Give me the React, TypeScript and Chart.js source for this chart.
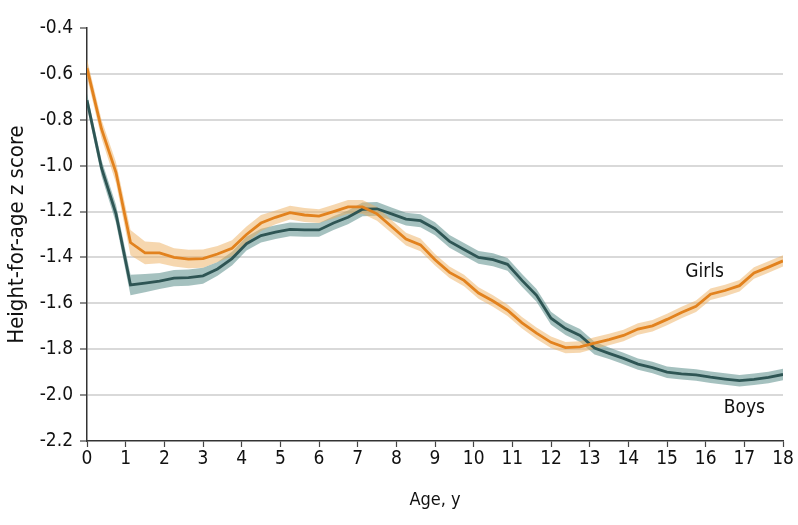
import React, { useEffect, useRef } from "react";
import { Chart, registerables } from "chart.js";

Chart.register(...registerables);

// Ages (years) at which the z scores were read
const ages = [
  0, 0.375, 0.75, 1.125, 1.5, 1.875, 2.25, 2.625, 3, 3.375, 3.75, 4.125, 4.5, 4.875, 5.25, 5.625,
  6, 6.375, 6.75, 7.125, 7.5, 7.875, 8.25, 8.625, 9, 9.375, 9.75, 10.125, 10.5, 10.875, 11.25, 11.625,
  12, 12.375, 12.75, 13.125, 13.5, 13.875, 14.25, 14.625, 15, 15.375, 15.75, 16.125, 16.5, 16.875, 17.25, 17.625, 18,
];

const girls = [
  -0.575, -0.84, -1.03, -1.335, -1.38, -1.38, -1.4, -1.407, -1.405, -1.385, -1.36, -1.3, -1.25, -1.225, -1.205, -1.215,
  -1.22, -1.2, -1.18, -1.18, -1.21, -1.265, -1.32, -1.345, -1.41, -1.465, -1.5, -1.555, -1.59, -1.63, -1.685, -1.73,
  -1.77, -1.793, -1.79, -1.773, -1.758, -1.74, -1.712, -1.698, -1.67, -1.64, -1.613, -1.56, -1.544, -1.523, -1.468, -1.442, -1.415,
];

const boys = [
  -0.715, -1.01, -1.21, -1.52, -1.512, -1.503, -1.49, -1.488, -1.48, -1.45, -1.405, -1.34, -1.305, -1.29, -1.278, -1.28,
  -1.28, -1.25, -1.225, -1.19, -1.188, -1.21, -1.233, -1.24, -1.275, -1.33, -1.365, -1.4, -1.41, -1.43, -1.5, -1.565,
  -1.665, -1.71, -1.74, -1.795, -1.818, -1.84, -1.865, -1.88, -1.9, -1.907, -1.912, -1.922, -1.93, -1.937, -1.931, -1.923, -1.91,
];

// Half-width of the 95% confidence band
const girlsCI = [
  0.04, 0.04, 0.045, 0.055, 0.05, 0.045, 0.04, 0.04, 0.04, 0.035, 0.035, 0.035, 0.035, 0.03, 0.03, 0.03,
  0.03, 0.03, 0.03, 0.03, 0.03, 0.028, 0.028, 0.028, 0.025, 0.025, 0.025, 0.025, 0.025, 0.025, 0.025, 0.025,
  0.025, 0.025, 0.025, 0.025, 0.025, 0.025, 0.025, 0.025, 0.025, 0.025, 0.025, 0.025, 0.025, 0.025, 0.025, 0.025, 0.025,
];

const boysCI = [
  0.03, 0.035, 0.04, 0.045, 0.04, 0.035, 0.035, 0.035, 0.035, 0.03, 0.03, 0.03, 0.03, 0.03, 0.03, 0.03,
  0.03, 0.03, 0.03, 0.03, 0.03, 0.028, 0.028, 0.028, 0.028, 0.028, 0.028, 0.028, 0.028, 0.028, 0.028, 0.028,
  0.028, 0.028, 0.028, 0.028, 0.025, 0.025, 0.025, 0.025, 0.025, 0.025, 0.025, 0.025, 0.025, 0.025, 0.025, 0.025, 0.025,
];

const yTicks = [-2.2, -2.0, -1.8, -1.6, -1.4, -1.2, -1.0, -0.8, -0.6, -0.4];
const xTicks = [0, 1, 2, 3, 4, 5, 6, 7, 8, 9, 10, 11, 12, 13, 14, 15, 16, 17, 18];

const seriesLabels = [
  { text: "Girls", x: 15.97, y: -1.465 },
  { text: "Boys", x: 17.0, y: -2.056 },
];

const FONT = "'Liberation Sans Narrow', 'DejaVu Sans Condensed', 'Liberation Sans', sans-serif";

const GIRL_LINE = "#E2821E";
const GIRL_BAND = "rgba(238, 176, 96, 0.5)";
const BOY_LINE = "#2E5554";
const BOY_BAND = "rgba(75, 132, 128, 0.5)";

const pts = (vals: number[]) => vals.map((v, i) => ({ x: ages[i], y: v }));

const textPlugin = {
  id: "seriesText",
  afterDatasetsDraw(chart: any) {
    const { ctx, scales } = chart;
    ctx.save();
    ctx.fillStyle = "#111";
    ctx.font = `19px ${FONT}`;
    ctx.textAlign = "center";
    ctx.textBaseline = "middle";
    for (const l of seriesLabels) {
      ctx.fillText(l.text, scales.x.getPixelForValue(l.x), scales.y.getPixelForValue(l.y));
    }
    ctx.restore();
  },
};

export default function App() {
  const ref = useRef<HTMLCanvasElement | null>(null);

  useEffect(() => {
    if (!ref.current) return;
    const band = { pointRadius: 0, borderWidth: 0, tension: 0, order: 2 };
    const chart = new Chart(ref.current, {
      type: "line",
      data: {
        datasets: [
          { ...band, data: pts(girls.map((v, i) => v + girlsCI[i])), fill: "+1", backgroundColor: GIRL_BAND, borderColor: "transparent" },
          { ...band, data: pts(girls.map((v, i) => v - girlsCI[i])), fill: false, borderColor: "transparent" },
          { ...band, data: pts(boys.map((v, i) => v + boysCI[i])), fill: "+1", backgroundColor: BOY_BAND, borderColor: "transparent" },
          { ...band, data: pts(boys.map((v, i) => v - boysCI[i])), fill: false, borderColor: "transparent" },
          { data: pts(girls), borderColor: GIRL_LINE, borderWidth: 2.8, pointRadius: 0, fill: false, order: 1, tension: 0 },
          { data: pts(boys), borderColor: BOY_LINE, borderWidth: 2.8, pointRadius: 0, fill: false, order: 1, tension: 0 },
        ],
      },
      options: {
        animation: false,
        responsive: false,
        maintainAspectRatio: false,
        layout: { padding: { top: 28, right: 15, left: 0, bottom: 0 } },
        plugins: { legend: { display: false }, tooltip: { enabled: false } },
        scales: {
          x: {
            type: "linear",
            min: 0,
            max: 18,
            afterBuildTicks: (s: any) => { s.ticks = xTicks.map((v) => ({ value: v })); },
            afterFit: (s: any) => { s.height = 84; },
            grid: { drawOnChartArea: false, tickLength: 6, tickColor: "#444", tickWidth: 1.2 },
            border: { display: true, color: "#333", width: 1.5 },
            ticks: { color: "#111", font: { family: FONT, size: 19 }, padding: 1, maxRotation: 0 },
            title: { display: true, text: "Age, y", color: "#111", font: { family: FONT, size: 18 }, padding: { top: 0, bottom: 14 } },
          },
          y: {
            type: "linear",
            min: -2.2,
            max: -0.4,
            afterBuildTicks: (s: any) => { s.ticks = yTicks.map((v) => ({ value: v })); },
            afterFit: (s: any) => { s.width = 87; },
            grid: {
              color: (c: any) => {
                const v = c.tick ? c.tick.value : 0;
                return Math.abs(v + 0.4) < 1e-6 || Math.abs(v + 2.2) < 1e-6 ? "rgba(0,0,0,0)" : "#d9d9d9";
              },
              lineWidth: 2,
              tickLength: 7,
              tickColor: "#444",
              tickWidth: 1.2,
            },
            border: { display: true, color: "#333", width: 1.5 },
            ticks: {
              color: "#111",
              font: { family: FONT, size: 19 },
              padding: 7,
              callback: (v: any) => Number(v).toFixed(1),
            },
            title: { display: true, text: "Height-for-age z score", color: "#111", font: { family: FONT, size: 22 }, padding: { top: 4, bottom: 0 } },
          },
        },
      },
      plugins: [textPlugin],
    } as any);
    return () => chart.destroy();
  }, []);

  return (
    <div style={{ position: "fixed", left: 0, top: 0, width: 798, height: 525, background: "#fff" }}>
      <canvas ref={ref} width={798} height={525} style={{ width: 798, height: 525, display: "block" }} />
    </div>
  );
}
